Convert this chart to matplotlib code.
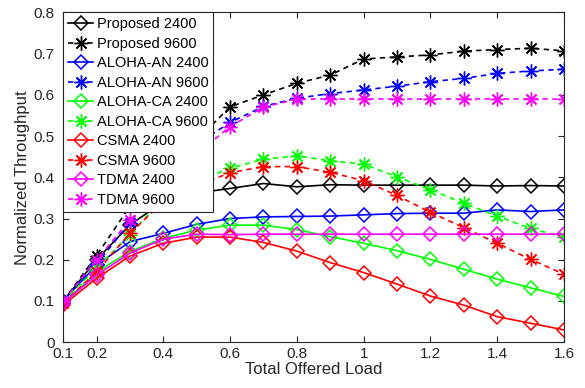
import numpy as np
import matplotlib
matplotlib.use('Agg')
import matplotlib.pyplot as plt

plt.rcParams['font.family'] = ['Liberation Sans', 'DejaVu Sans']

# Offered load values
load = [0.1, 0.2, 0.3, 0.4, 0.5, 0.6, 0.7, 0.8, 0.9, 1.0, 1.1, 1.2, 1.3, 1.4, 1.5, 1.6]

proposed_2400 = [0.10, 0.20, 0.285, 0.34, 0.362, 0.373, 0.385, 0.377, 0.382, 0.381, 0.381, 0.381, 0.381, 0.379, 0.380, 0.379]
proposed_9600 = [0.10, 0.21, 0.33, 0.42, 0.49, 0.571, 0.600, 0.628, 0.648, 0.687, 0.692, 0.697, 0.706, 0.710, 0.713, 0.707]
aloha_an_2400 = [0.10, 0.187, 0.244, 0.264, 0.286, 0.300, 0.304, 0.305, 0.306, 0.309, 0.312, 0.313, 0.313, 0.321, 0.317, 0.321]
aloha_an_9600 = [0.10, 0.19, 0.29, 0.39, 0.48, 0.533, 0.572, 0.592, 0.603, 0.612, 0.621, 0.632, 0.640, 0.652, 0.658, 0.662]
aloha_ca_2400 = [0.095, 0.17, 0.22, 0.252, 0.272, 0.284, 0.284, 0.273, 0.256, 0.240, 0.222, 0.201, 0.177, 0.153, 0.132, 0.111]
aloha_ca_9600 = [0.10, 0.18, 0.26, 0.35, 0.39, 0.422, 0.444, 0.452, 0.440, 0.432, 0.401, 0.370, 0.337, 0.306, 0.276, 0.255]
csma_2400 = [0.09, 0.155, 0.209, 0.240, 0.255, 0.255, 0.242, 0.221, 0.193, 0.169, 0.141, 0.112, 0.090, 0.062, 0.046, 0.030]
csma_9600 = [0.095, 0.17, 0.265, 0.34, 0.38, 0.411, 0.426, 0.426, 0.412, 0.392, 0.356, 0.315, 0.278, 0.240, 0.201, 0.165]
tdma_2400 = [0.095, 0.163, 0.216, 0.250, 0.262, 0.261, 0.262, 0.262, 0.262, 0.262, 0.262, 0.262, 0.262, 0.262, 0.262, 0.262]
tdma_9600 = [0.10, 0.20, 0.296, 0.38, 0.457, 0.523, 0.570, 0.590, 0.590, 0.590, 0.590, 0.590, 0.590, 0.590, 0.590, 0.590]

series = [
    ('Proposed 2400', proposed_2400, 'k', 'solid'),
    ('Proposed 9600', proposed_9600, 'k', 'dashed'),
    ('ALOHA-AN 2400', aloha_an_2400, 'b', 'solid'),
    ('ALOHA-AN 9600', aloha_an_9600, 'b', 'dashed'),
    ('ALOHA-CA 2400', aloha_ca_2400, '#00ff00', 'solid'),
    ('ALOHA-CA 9600', aloha_ca_9600, '#00ff00', 'dashed'),
    ('CSMA 2400', csma_2400, 'r', 'solid'),
    ('CSMA 9600', csma_9600, 'r', 'dashed'),
    ('TDMA 2400', tdma_2400, '#ff00ff', 'solid'),
    ('TDMA 9600', tdma_9600, '#ff00ff', 'dashed'),
]

fig = plt.figure(figsize=(5.85, 3.88), dpi=100)
ax = fig.add_axes([0.108, 0.118, 0.856, 0.850])

for name, vals, col, style in series:
    if style == 'solid':
        ax.plot(load, vals, color=col, lw=1.2, marker='D', ms=7,
                mfc='none', mec=col, mew=1.1, label=name)
    else:
        ax.plot(load, vals, color=col, lw=1.2, dashes=(3.2, 2.6), marker=(8, 2, 0),
                ms=10, mec=col, mew=1.0, label=name)

ax.set_xlim(0.1, 1.6)
ax.set_ylim(0, 0.8)
ax.set_xticks([0.1, 0.2, 0.4, 0.6, 0.8, 1.0, 1.2, 1.4, 1.6])
ax.set_xticklabels(['0.1', '0.2', '0.4', '0.6', '0.8', '1', '1.2', '1.4', '1.6'])
ax.set_yticks(np.arange(0, 0.81, 0.1))
ax.set_yticklabels(['0', '0.1', '0.2', '0.3', '0.4', '0.5', '0.6', '0.7', '0.8'])
ax.tick_params(direction='in', top=True, right=True, labelsize=11, length=4,
               color='#262626', labelcolor='#262626')
ax.tick_params(axis='y', pad=6)
for sp in ax.spines.values():
    sp.set_color('#262626')
    sp.set_linewidth(0.8)

ax.set_xlabel('Total Offered Load', fontsize=12, color='#262626', labelpad=1)
ax.set_ylabel('Normalized Throughput', fontsize=12, color='#262626', labelpad=3)

leg = ax.legend(loc='upper left', fontsize=10.5, frameon=True, fancybox=False,
                borderaxespad=0, handlelength=1.75, handletextpad=0.25,
                labelspacing=0.38, borderpad=0.32)
leg.get_frame().set_edgecolor('#262626')
leg.get_frame().set_linewidth(0.8)
leg.get_frame().set_alpha(1)

fig.savefig('out.png', dpi=100)
